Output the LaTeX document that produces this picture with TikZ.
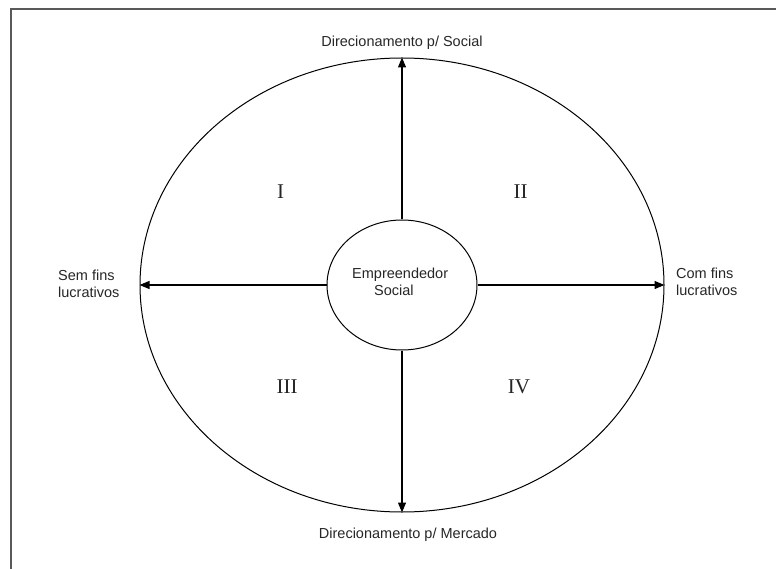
\documentclass[tikz,border=0pt]{standalone}
\usepackage{fontspec}
\setmainfont{Liberation Sans}
\newfontfamily\numfont{Liberation Serif}
\usetikzlibrary{shapes.geometric,arrows.meta}
\tikzset{
  ring/.style={draw=black, ellipse, line width=1pt, inner sep=0pt},
  axisarrow/.style={draw=black, line width=1.2pt, -{Triangle[length=10pt,width=8pt]}},
  lbl/.style={inner sep=0pt, font=\fontsize{14.5}{17}\selectfont, text=black!85},
  quad/.style={inner sep=0pt, font=\numfont\fontsize{21}{21}\selectfont, text=black!85},
  frameline/.style={draw=black!65, line width=1.6pt}
}
\begin{document}
\begin{tikzpicture}[x=1pt,y=-1pt]
\useasboundingbox (0,0) rectangle (776,569);
\draw[frameline] (11,569) -- (11,9) -- (776,9);
\node[ring, minimum width=524pt, minimum height=454pt] (outer) at (402,285) {};
\node[ring, minimum width=150pt, minimum height=130pt] (core) at (402,285) {};
\node[lbl, align=left, anchor=north west] (corelabel) at (352,267.4) {Empreendedor\\\hspace*{22pt}Social};
\draw[axisarrow] (core.north) -- (outer.north);
\draw[axisarrow] (core.south) -- (outer.south);
\draw[axisarrow] (core.west) -- (outer.west);
\draw[axisarrow] (core.east) -- (outer.east);
\node[lbl, anchor=base] (top) at (402,46.5) {Direcionamento p/ Social};
\node[lbl, anchor=base] (bottom) at (408,538) {Direcionamento p/ Mercado};
\node[lbl, align=left, anchor=north west] (left) at (58,269.4) {Sem fins\\lucrativos};
\node[lbl, align=left, anchor=north west] (right) at (676,267.4) {Com fins\\lucrativos};
\node[quad] (q1) at (280.5,191.5) {I};
\node[quad] (q2) at (520.5,191.5) {II};
\node[quad] (q3) at (287,386.5) {III};
\node[quad] (q4) at (519,386.5) {IV};
\end{tikzpicture}
\end{document}
